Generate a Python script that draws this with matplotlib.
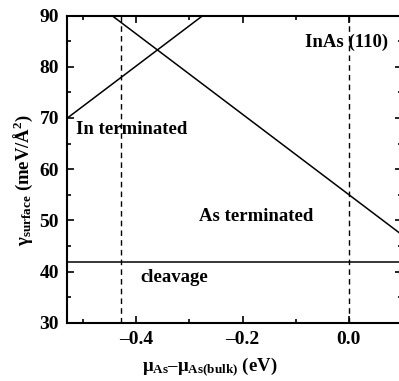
import numpy as np
import matplotlib
matplotlib.use('Agg')
import matplotlib.pyplot as plt
from matplotlib.ticker import MultipleLocator

plt.rcParams['font.family'] = ['Liberation Serif', 'DejaVu Serif']
plt.rcParams['font.weight'] = 'bold'
plt.rcParams['mathtext.fontset'] = 'custom'
plt.rcParams['mathtext.rm'] = 'Liberation Serif:bold'
plt.rcParams['mathtext.it'] = 'Liberation Serif:bold'
plt.rcParams['mathtext.bf'] = 'Liberation Serif:bold'

# surface energy lines (meV/A^2) vs chemical potential (eV)
mu_in = [-0.53, -0.275]
gamma_in = [70.0, 90.0]
mu_as = [-0.446, 0.1]
gamma_as = [90.0, 47.2]
gamma_cleavage = 41.9
mu_limits = [-0.43, 0.0]

labels = ["In terminated", "InAs (110)", "As terminated", "cleavage"]
label_pos = [(-0.514, 67.7), (-0.082, 84.7), (-0.283, 50.7), (-0.392, 38.9)]

fig = plt.figure(figsize=(3.99, 3.81), dpi=100)
ax = fig.add_axes([0.169, 0.153, 0.838, 0.806])

ax.plot(mu_in, gamma_in, color='k', lw=1.1)
ax.plot(mu_as, gamma_as, color='k', lw=1.1)
ax.axhline(gamma_cleavage, color='k', lw=1.1)
for m in mu_limits:
    ax.axvline(m, color='k', lw=1.0, ls=(0, (4, 3)))

for txt, (x, y) in zip(labels, label_pos):
    ax.text(x, y, txt, fontsize=13.5, fontweight='bold', va='center', ha='left')

ax.set_xlim(-0.53, 0.1)
ax.set_ylim(30, 90)
ax.xaxis.set_major_locator(MultipleLocator(0.2))
ax.xaxis.set_minor_locator(MultipleLocator(0.1))
ax.yaxis.set_major_locator(MultipleLocator(10))
ax.yaxis.set_minor_locator(MultipleLocator(5))
ax.set_xticks([-0.4, -0.2, 0.0])
ax.set_xticklabels(['\u20130.4', '\u20130.2', '0.0'])
ax.tick_params(which='both', direction='in', top=True, right=True, labelsize=14, width=1.2)
ax.tick_params(which='major', length=5, pad=6)
ax.tick_params(which='minor', length=3)
for s in ax.spines.values():
    s.set_linewidth(1.5)

ax.set_xlabel(r'$\mathrm{\mu_{As}}$' + '\u2013' + r'$\mathrm{\mu_{As(bulk)}}$ (eV)', fontsize=13.5, fontweight='bold')
ax.set_ylabel(r'$\mathrm{\gamma_{surface}}$ (meV/$\mathrm{\AA^{2}}$)', fontsize=13.5, fontweight='bold')
ax.xaxis.set_label_coords(0.426, -0.105)
ax.yaxis.set_label_coords(-0.098, 0.465)

fig.savefig('out.png', dpi=100)
